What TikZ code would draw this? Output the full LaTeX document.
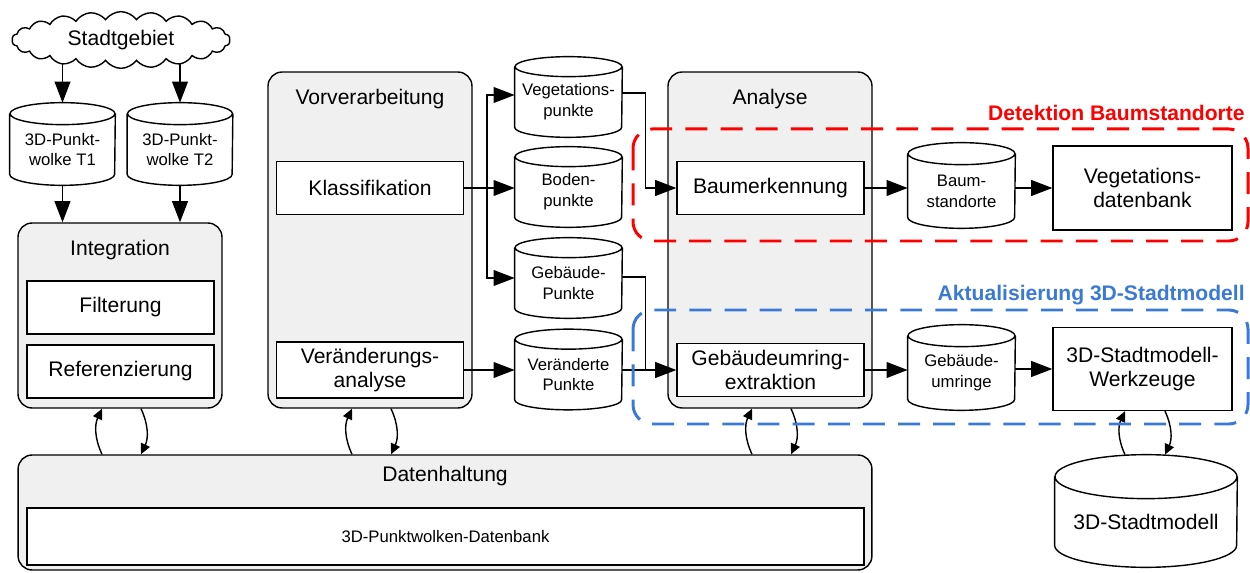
\documentclass[tikz,border=0pt]{standalone}
\usepackage{fontspec}
\setmainfont{Liberation Sans}
\usetikzlibrary{shapes.symbols,arrows.meta}
\definecolor{panelgray}{RGB}{240,240,240}
\definecolor{treered}{RGB}{255,0,0}
\definecolor{cityblue}{RGB}{58,122,214}

\begin{document}
\begin{tikzpicture}[x=0.02cm, y=0.02cm,
    every node/.style={font=\fontsize{12}{14}\selectfont, align=center},
    panel/.style={draw, line width=0.8pt, fill=panelgray, rounded corners=8pt},
    stepbox/.style={draw, line width=0.8pt, fill=white, minimum width=3.74cm, minimum height=1.06cm},
    store/.style={inner sep=1pt, minimum width=2.14cm, minimum height=1.4cm, font=\fontsize{9.5}{11.9}\selectfont},
    storeline/.style={line width=0.8pt},
    flow/.style={line width=0.8pt, -{Triangle[length=12pt,width=9pt]}},
    sync/.style={line width=0.8pt, -{Triangle[length=6pt,width=5.5pt]}, bend left=25},
    frame/.style={line width=1.7pt, dash pattern=on 12.5pt off 7.5pt, rounded corners=11pt},
    frametitle/.style={font=\fontsize{12}{14}\selectfont\bfseries, anchor=east, inner sep=0pt}]
    \useasboundingbox (0,0) rectangle (1250,-573);

    % Input data
    \node[cloud, draw, line width=0.8pt, cloud puffs=22, cloud puff arc=110, aspect=3.9,
        minimum width=4.36cm, minimum height=1.1cm] (area) at (121,-40) {Stadtgebiet};
    \node[store, minimum width=2.1cm, minimum height=1.42cm] (scan1) at (62.5,-149.5) {3D-Punkt-\\wolke T1};
    \node[store, minimum width=2.1cm, minimum height=1.42cm] (scan2) at (180,-149.5) {3D-Punkt-\\wolke T2};

    % Integration
    \node[panel, minimum width=4.08cm, minimum height=3.7cm] (integ) at (120,-315.5) {};
    \node at ([yshift=-0.56cm]integ.north) {Integration};
    \node[stepbox] (filt) at (120.5,-307.5) {Filterung};
    \node[stepbox] (refz) at (120.5,-371.5) {Referenzierung};

    % Vorverarbeitung
    \node[panel, minimum width=4.08cm, minimum height=6.72cm] (prep) at (370,-240) {};
    \node at ([yshift=-0.56cm]prep.north) {Vorverarbeitung};
    \node[stepbox] (klass) at (370,-188) {Klassifikation};
    \node[stepbox] (change) at (370,-370) {Veränderungs-\\analyse};

    % Intermediate point clouds
    \node[store] (vegp) at (568.5,-102) {Vegetations-\\punkte};
    \node[store] (groundp) at (568.5,-192) {Boden-\\punkte};
    \node[store] (buildp) at (568.5,-283) {Gebäude-\\Punkte};
    \node[store] (changep) at (568.5,-374.5) {Veränderte\\Punkte};

    % Analyse
    \node[panel, minimum width=4.08cm, minimum height=6.72cm] (anal) at (770,-240) {};
    \node at ([yshift=-0.56cm]anal.north) {Analyse};
    \node[stepbox] (treedet) at (770.5,-188) {Baumerkennung};
    \node[stepbox] (outline) at (770.5,-370) {Gebäudeumring-\\extraktion};

    % Results
    \node[store, minimum height=1.48cm] (treepos) at (961.5,-191) {Baum-\\standorte};
    \node[store, minimum height=1.48cm] (rings) at (961.5,-373) {Gebäude-\\umringe};
    \node[stepbox, minimum width=3.58cm, minimum height=1.68cm] (vegdb) at (1142.5,-188) {Vegetations-\\datenbank};
    \node[stepbox, minimum width=3.58cm, minimum height=1.66cm] (tools) at (1142.5,-369) {3D-Stadtmodell-\\Werkzeuge};
    \node[store, minimum width=3.64cm, minimum height=1.8cm,
        font=\fontsize{12}{14}\selectfont] (citymodel) at (1146,-522) {3D-Stadtmodell};

    % Cylinder outlines
    \foreach \db/\rx/\ry in {scan1/1.05/0.22, scan2/1.05/0.22, vegp/1.07/0.2, groundp/1.07/0.2,
        buildp/1.07/0.2, changep/1.07/0.2, treepos/1.07/0.22, rings/1.07/0.22, citymodel/1.82/0.44} {
        \draw[storeline] (\db.north west) -- ([yshift=\ry cm]\db.south west)
            arc[start angle=180, end angle=360, x radius=\rx cm, y radius=\ry cm] -- (\db.north east)
            (\db.north) ellipse[x radius=\rx cm, y radius=\ry cm];
    }

    % Datenhaltung
    \node[panel, minimum width=17.08cm, minimum height=2.3cm] (store) at (445,-512.5) {};
    \node at ([yshift=-0.44cm]store.north) {Datenhaltung};
    \node[stepbox, minimum width=16.74cm, minimum height=1.14cm, font=\fontsize{9.5}{11.9}\selectfont]
        (pcdb) at (445.5,-536.5) {3D-Punktwolken-Datenbank};

    % Data flow
    \draw[flow] (scan1.north |- area.200) -- ([yshift=0.22cm]scan1.north);
    \draw[flow] (scan2.north |- area.340) -- ([yshift=0.22cm]scan2.north);
    \draw[flow] (scan1.south) -- (scan1.south |- integ.north);
    \draw[flow] (scan2.south) -- (scan2.south |- integ.north);
    \draw[flow] (klass.east) -- ++(0.46cm,0) |- ([yshift=0.14cm]vegp.west);
    \draw[flow] (klass.east) -- (klass.east -| groundp.west);
    \draw[flow] (klass.east) -- ++(0.46cm,0) |- ([yshift=0.1cm]buildp.west);
    \draw[flow] (change.east) -- (change.east -| changep.west);
    \draw[flow] ([yshift=0.18cm]vegp.east) -| ([xshift=-0.62cm]treedet.west) -- (treedet.west);
    \draw[line width=0.8pt] ([yshift=0.12cm]buildp.east) -| ([xshift=-0.62cm]outline.west);
    \draw[flow] (changep.east |- outline.west) -- (outline.west);
    \draw[flow] (treedet.east) -- (treedet.east -| treepos.west);
    \draw[flow] (treepos.east |- vegdb.west) -- (vegdb.west);
    \draw[flow] (outline.east) -- (outline.east -| rings.west);
    \draw[flow] (rings.east |- tools.west) -- (tools.west);

    % Exchange with storage
    \foreach \blk in {integ, prep, anal} {
        \draw[sync] ([xshift=-0.36cm]\blk.south |- store.north) to ([xshift=-0.36cm]\blk.south);
        \draw[sync] ([xshift=0.42cm]\blk.south) to ([xshift=0.42cm]\blk.south |- store.north);
    }
    \coordinate (citytop) at ([yshift=0.44cm]citymodel.north);
    \draw[sync] ([xshift=-0.35cm]tools.south |- citytop) to ([xshift=-0.35cm]tools.south);
    \draw[sync] ([xshift=0.45cm]tools.south) to ([xshift=0.45cm]tools.south |- citytop);

    % Use cases
    \draw[frame, treered] (633,-129) rectangle (1248,-241);
    \node[frametitle, text=treered] (treetitle) at (1245,-113) {Detektion Baumstandorte};
    \draw[frame, cityblue] (633,-310) rectangle (1248,-424);
    \node[frametitle, text=cityblue] (citytitle) at (1245,-295) {Aktualisierung 3D-Stadtmodell};
\end{tikzpicture}
\end{document}
